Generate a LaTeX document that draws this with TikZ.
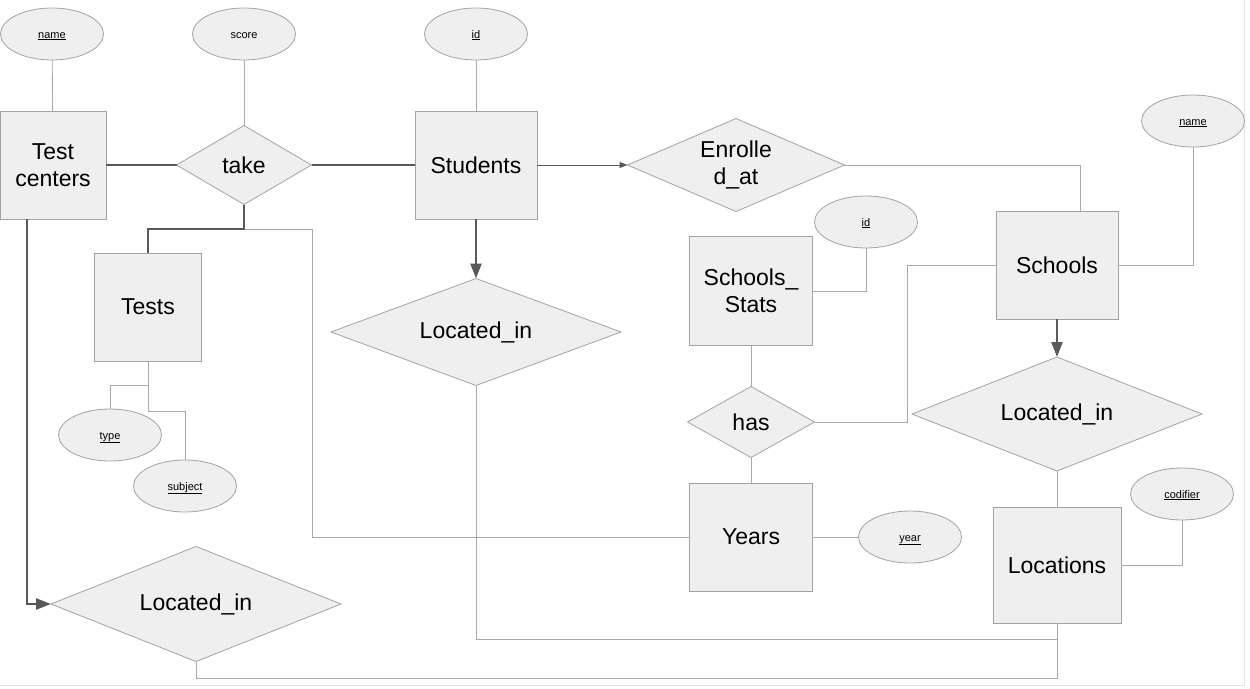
\documentclass[tikz,border=0pt]{standalone}
\usepackage{fontspec}
\setmainfont{Liberation Sans}
\usetikzlibrary{shapes.geometric,arrows.meta}
\definecolor{fillg}{HTML}{EFEFEF}
\definecolor{edgeg}{HTML}{A3A3A3}
\definecolor{lineg}{HTML}{A8A8A8}
\definecolor{darkg}{HTML}{595959}
\definecolor{framec}{HTML}{E3E3E3}
\begin{document}
\begin{tikzpicture}[x=1pt,y=-1pt,
  ent/.style={rectangle,draw=edgeg,fill=fillg,line width=0.8pt,inner sep=0pt,outer sep=0pt,align=center,font=\fontsize{23}{27}\selectfont},
  rel/.style={diamond,draw=edgeg,fill=fillg,line width=0.8pt,inner sep=0pt,outer sep=0pt,align=center,font=\fontsize{23}{27}\selectfont},
  attr/.style={ellipse,draw=edgeg,fill=fillg,line width=0.8pt,inner sep=0pt,outer sep=0pt,minimum width=103pt,minimum height=52pt,text height=8pt,text depth=0pt,font=\fontsize{11}{13}\selectfont},
  conn/.style={draw=lineg,line width=0.9pt},
  strong/.style={draw=darkg,line width=2.4pt},
  bigtip/.style={-{Triangle[length=15pt,width=11pt]}},
  smalltip/.style={-{Triangle[length=8pt,width=6pt]}}]
\useasboundingbox (0,0) rectangle (1250,688);
\draw[draw=framec,line width=1pt] (0,685) -- (1244,685) -- (1244,0);

% attributes
\node[attr] (tcname) at (52,34) {\underline{name}};
\node[attr] (score) at (244,34) {score};
\node[attr] (stid) at (476,34) {\underline{id}};
\node[attr] (scname) at (1193,121) {\underline{name}};
\node[attr] (ssid) at (866,222) {\underline{id}};
\node[attr] (type) at (110,435) {\underline{type}};
\node[attr] (subject) at (185,486) {\underline{subject}};
\node[attr] (year) at (910,537) {\underline{year}};
\node[attr] (codifier) at (1182,494) {\underline{codifier}};

% entities
\node[ent,minimum width=106pt,minimum height=108pt] (tc) at (53,165) {Test\\centers};
\node[ent,minimum width=122pt,minimum height=108pt] (students) at (476,165) {Students};
\node[ent,minimum width=107pt,minimum height=108pt] (tests) at (148,307) {Tests};
\node[ent,minimum width=123pt,minimum height=109pt] (ss) at (751,291) {Schools\_\\Stats};
\node[ent,minimum width=123pt,minimum height=108pt] (years) at (751,537) {Years};
\node[ent,minimum width=122pt,minimum height=108pt] (schools) at (1057,265) {Schools};
\node[ent,minimum width=128pt,minimum height=116pt] (locs) at (1057,565) {Locations};

% relationships
\node[rel,shape aspect=1.71,minimum width=135pt,minimum height=79pt] (take) at (244,165) {take};
\node[rel,shape aspect=2.33,minimum width=217pt,minimum height=93pt] (enr) at (736,165) {Enrolle\\d\_at};
\node[rel,shape aspect=2.71,minimum width=290pt,minimum height=107pt] (li2) at (476,332) {Located\_in};
\node[rel,shape aspect=2.54,minimum width=290pt,minimum height=114pt] (li3) at (1057,414) {Located\_in};
\node[rel,shape aspect=2.52,minimum width=290pt,minimum height=115pt] (li1) at (196,604) {Located\_in};
\node[rel,shape aspect=1.79,minimum width=127pt,minimum height=71pt] (has) at (751,422) {has};

% bend points
\coordinate (tj) at (244,229);
\coordinate (ty) at (312,229);
\coordinate (tcb) at (27,219);
\coordinate (b1) at (1057,678);
\coordinate (b2) at (1057,639);
\coordinate (hb) at (907,422);
\coordinate (tsj) at (148,385);
\coordinate (tsk) at (148,411);

% thin connectors
\draw[conn] (tcname) -- (tc);
\draw[conn] (score) -- (take);
\draw[conn] (stid) -- (students);
\draw[conn] (tj) -- (ty) |- (years.west);
\draw[conn] (li1.south) |- (b1) -- (locs.south);
\draw[conn] (li2.south) |- (b2);
\draw[conn] (enr.east) -| ([xshift=23pt]schools.north);
\draw[conn] (ss.east) -| (ssid.south);
\draw[conn] (schools.east) -| (scname.south);
\draw[conn] (has.east) -- (hb) |- (schools.west);
\draw[conn] (ss.south) -- (has.north);
\draw[conn] (has.south) -- (years.north);
\draw[conn] (years.east) -- (year.west);
\draw[conn] (li3.south) -- (locs.north);
\draw[conn] (locs.east) -| (codifier.south);
\draw[conn] (tests.south) -- (tsj) -| (type.north);
\draw[conn] (tsj) -- (tsk) -| (subject.north);

% strong connectors
\draw[strong] (tc.east) -- (take.west);
\draw[strong] (take.east) -- (students.west);
\draw[strong] (take.south) -- (tj) -| (tests.north);
\draw[strong,bigtip] (tcb) |- (li1.west);
\draw[strong,bigtip] (students.south) -- (li2.north);
\draw[strong,bigtip] (schools.south) -- (li3.north);
\draw[draw=darkg,line width=1pt,smalltip] (students.east) -- (enr.west);
\end{tikzpicture}
\end{document}
